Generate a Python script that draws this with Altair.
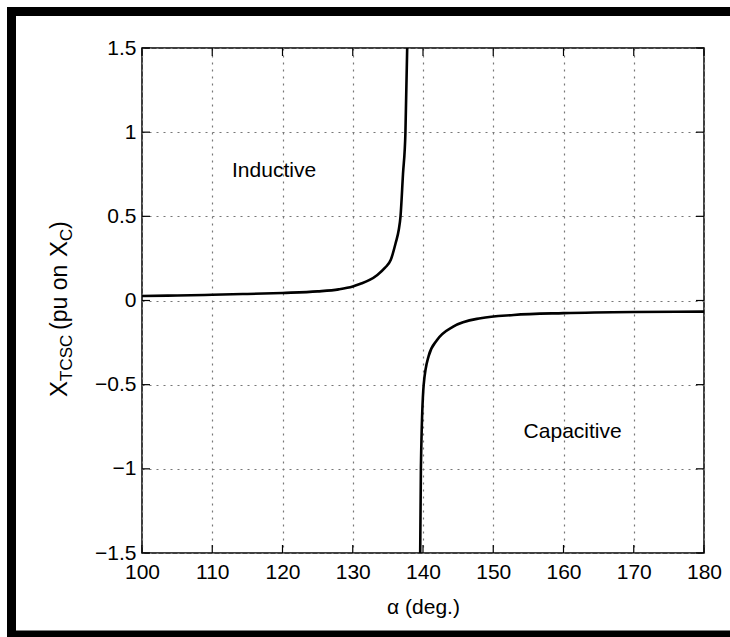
import altair as alt
import pandas as pd

# ---------------- data ----------------
ind_alpha = [100, 105, 110, 115, 120, 125, 128, 130, 131.1, 132.4, 133.5, 134.6, 135.4, 136.1, 136.55, 136.8, 137.15, 137.5, 137.75]
ind_x = [0.027, 0.030, 0.034, 0.039, 0.045, 0.054, 0.066, 0.083, 0.099, 0.122, 0.152, 0.195, 0.24, 0.34, 0.42, 0.50, 0.75, 1.0, 1.5]

cap_alpha = [139.6, 139.7, 140.1, 140.8, 142.0, 144.3, 148.2, 152.9, 160, 170, 180]
cap_x = [-1.5, -1.0, -0.5, -0.33, -0.235, -0.155, -0.105, -0.086, -0.075, -0.068, -0.066]

x_ticks = [100, 110, 120, 130, 140, 150, 160, 170, 180]
y_ticks = [-1.5, -1, -0.5, 0, 0.5, 1, 1.5]

notes = ["Inductive", "Capacitive"]
note_alpha = [118.8, 161.3]
note_x = [0.77, -0.78]

W, H = 562, 505
FONT = "Liberation Sans"

curve = pd.DataFrame({
    "alpha": ind_alpha + cap_alpha,
    "x": ind_x + cap_x,
    "branch": ["ind"] * len(ind_alpha) + ["cap"] * len(cap_alpha),
})

xs = alt.Scale(domain=[100, 180], nice=False, zero=False)
ys = alt.Scale(domain=[-1.5, 1.5], nice=False, zero=False)

xaxis = alt.Axis(values=x_ticks, grid=True, gridDash=[2, 5], gridColor="#777", gridWidth=1.2,
                 domain=False, ticks=False, labelFontSize=21, labelFont=FONT, labelColor="black",
                 labelPadding=8, title="α (deg.)", titleFont=FONT, titleFontSize=21,
                 titleFontWeight="normal", titleColor="black", titlePadding=14, labelFlush=False)
yaxis = alt.Axis(values=y_ticks, grid=True, gridDash=[2, 5], gridColor="#777", gridWidth=1.2,
                 domain=False, ticks=False, labelFontSize=21, labelFont=FONT, labelColor="black",
                 labelPadding=6, title=None, format="~g", labelFlush=False)

lines = alt.Chart(curve).mark_line(color="black", strokeWidth=2.6, clip=True, interpolate="monotone").encode(
    x=alt.X("alpha:Q", scale=xs, axis=xaxis),
    y=alt.Y("x:Q", scale=ys, axis=yaxis),
    detail="branch:N",
)

notes_df = pd.DataFrame({"t": notes, "alpha": note_alpha, "x": note_x})
labels = alt.Chart(notes_df).mark_text(font=FONT, fontSize=21, color="black").encode(
    x=alt.X("alpha:Q", scale=xs),
    y=alt.Y("x:Q", scale=ys),
    text="t:N",
)

# inward ticks on all four sides
xt = pd.DataFrame({"alpha": x_ticks})
yt = pd.DataFrame({"x": y_ticks})
TL = 8
tick_b = alt.Chart(xt).mark_rule(color="black", strokeWidth=1.2).encode(
    x=alt.X("alpha:Q", scale=xs), y=alt.value(H), y2=alt.value(H - TL))
tick_t = alt.Chart(xt).mark_rule(color="black", strokeWidth=1.2).encode(
    x=alt.X("alpha:Q", scale=xs), y=alt.value(0), y2=alt.value(TL))
tick_l = alt.Chart(yt).mark_rule(color="black", strokeWidth=1.2).encode(
    y=alt.Y("x:Q", scale=ys), x=alt.value(0), x2=alt.value(TL))
tick_r = alt.Chart(yt).mark_rule(color="black", strokeWidth=1.2).encode(
    y=alt.Y("x:Q", scale=ys), x=alt.value(W), x2=alt.value(W - TL))

# y-axis title with subscripts (rotated pieces)
OX, OY = 142, 48
def piece(txt, y_abs, size, base_x):
    return alt.Chart(pd.DataFrame({"t": [txt]})).mark_text(
        font=FONT, fontSize=size, color="black", angle=270, align="left", baseline="alphabetic"
    ).encode(text="t:N", x=alt.value(base_x - OX), y=alt.value(y_abs - OY))

ytitle = [
    piece("X", 397, 24, 67),
    piece("TCSC", 381, 17, 72),
    piece("(pu on", 330, 23, 67),
    piece("X", 257, 24, 67),
    piece("C", 241, 17, 72),
    piece(")", 229, 23, 67),
]

# outer black frame
def bar(x1, x2, y1, y2):
    return alt.Chart(pd.DataFrame({"d": [0]})).mark_rule(color="black", strokeWidth=9).encode(
        x=alt.value(x1 - OX), x2=alt.value(x2 - OX), y=alt.value(y1 - OY), y2=alt.value(y2 - OY))

frame = [
    bar(7, 740, 11.5, 11.5),
    bar(11.5, 11.5, 7, 640),
    bar(7, 740, 635, 635),
]

chart = alt.layer(lines, labels, tick_b, tick_t, tick_l, tick_r, *ytitle, *frame).properties(
    width=W, height=H,
    autosize=alt.AutoSizeParams(type="none"),
    padding={"left": OX, "top": OY, "right": 730 - OX - W, "bottom": 637 - OY - H},
).configure(
    background="white",
    view=alt.ViewConfig(stroke="black", strokeWidth=1.5),
)

chart.save("out.html", embed_options={"renderer": "svg", "actions": False})
